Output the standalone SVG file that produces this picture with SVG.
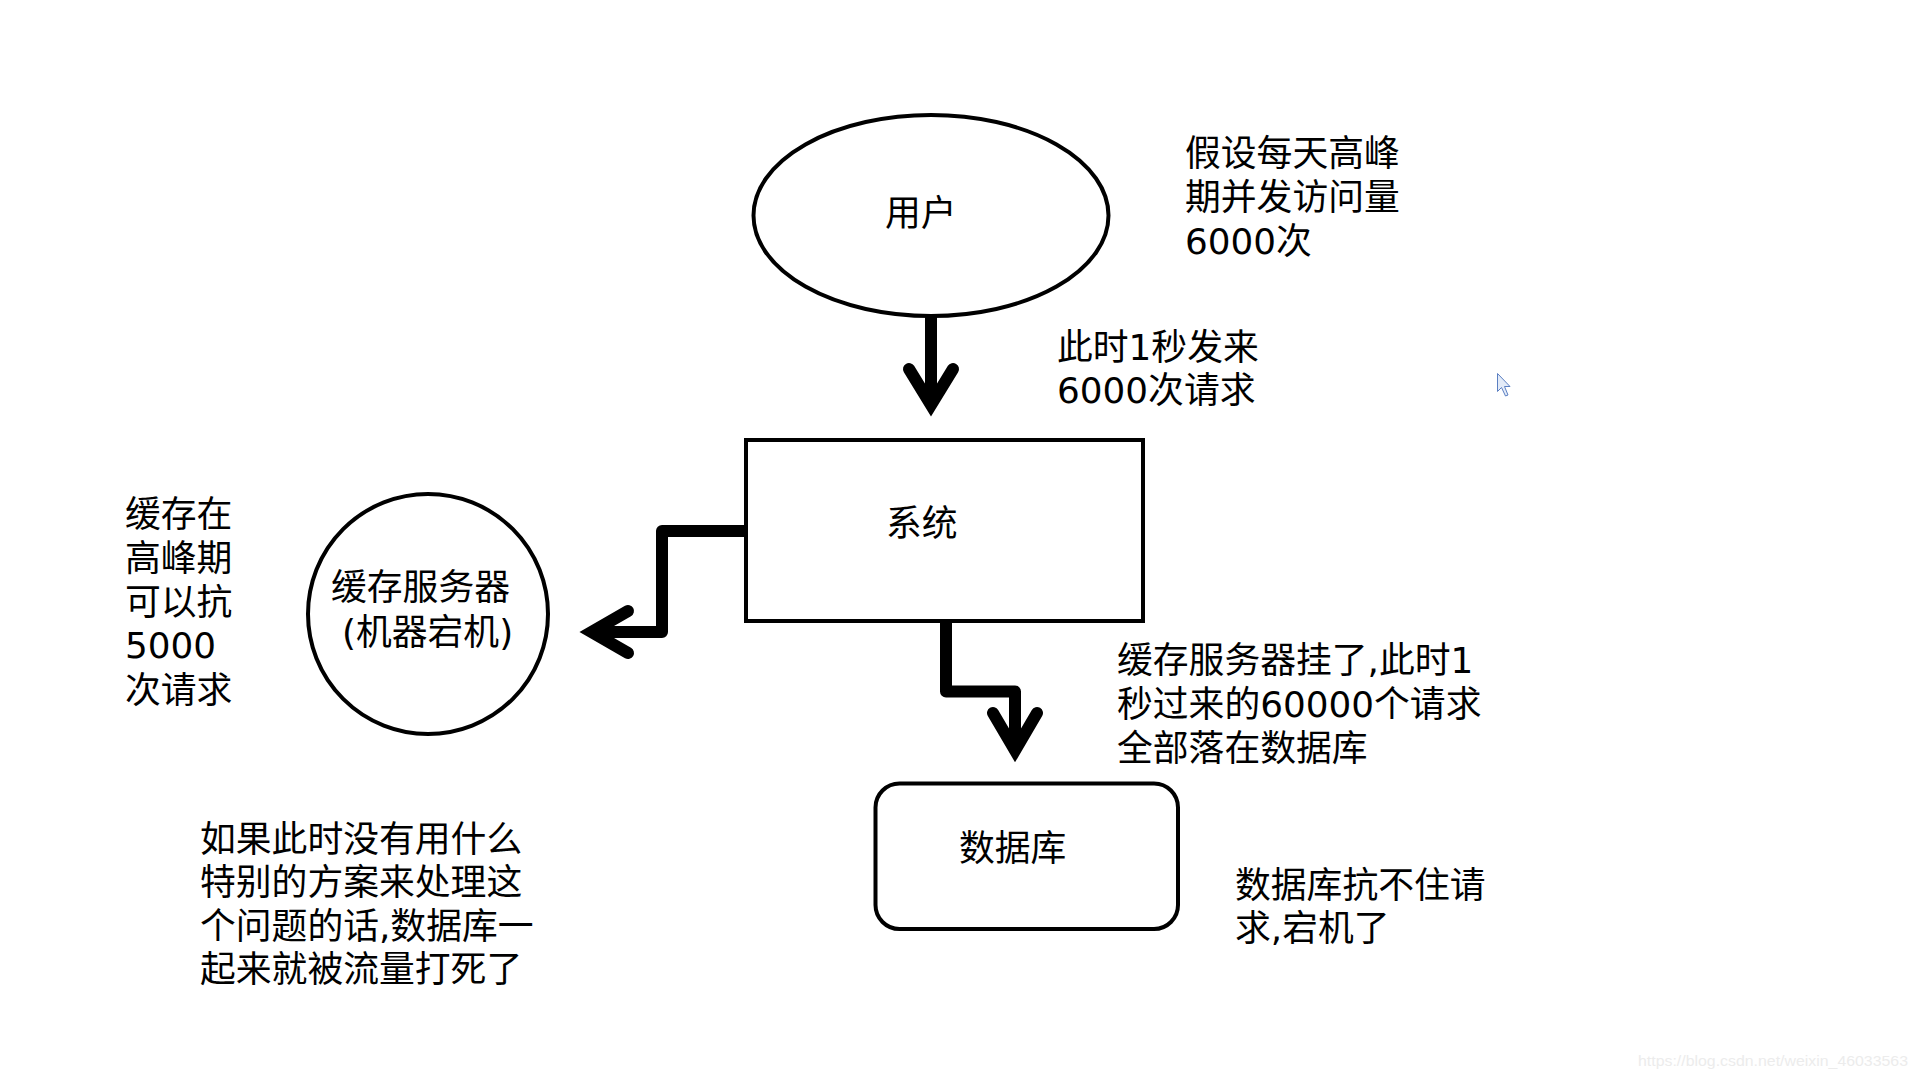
<svg xmlns="http://www.w3.org/2000/svg" width="1919" height="1079" viewBox="0 0 1919 1079">
<style>
.t { font-family: "DejaVu Sans", "Noto Sans CJK SC", sans-serif; font-size: 35.8px; fill: #000; }
.shape { fill: #fff; stroke: #000; stroke-width: 4; }
.conn { fill: none; stroke: #000; stroke-width: 12; stroke-linejoin: round; }
.head { fill: none; stroke: #000; stroke-width: 12; stroke-linecap: round; stroke-linejoin: miter; stroke-miterlimit: 10; }
.wm { font-family: "Liberation Sans", Arial, sans-serif; font-size: 14px; fill: #ececec; }
</style>
<rect x="0" y="0" width="1919" height="1079" fill="#fff"/>

<g id="connectors">
  <path class="conn" d="M931,316 V405"/>
  <path class="head" d="M909,369 L931,405 L953,369"/>
  <path class="conn" d="M746,531 H662 V632 H592"/>
  <path class="head" d="M628,611 L591.5,632 L628,653"/>
  <path class="conn" d="M946,621 V691.5 H1015 V750"/>
  <path class="head" d="M993,713 L1015,750.5 L1037,713"/>
</g>

<g id="user">
  <ellipse class="shape" cx="931" cy="215.5" rx="177.5" ry="100.5"/>
  <text class="t" x="885" y="226">用户</text>
</g>

<g id="system">
  <rect class="shape" x="746" y="440" width="397" height="181"/>
  <text class="t" x="886" y="536">系统</text>
</g>

<g id="cache">
  <circle class="shape" cx="428" cy="614" r="120"/>
  <text class="t" x="331" y="600">缓存服务器</text>
  <text class="t" x="342" y="645">(机器宕机)</text>
</g>

<g id="database">
  <rect class="shape" x="875.5" y="783.5" width="302.5" height="145.5" rx="24" ry="24"/>
  <text class="t" x="959" y="861">数据库</text>
</g>

<g id="notes">
  <text class="t" x="1185" y="166">假设每天高峰</text>
  <text class="t" x="1185" y="210">期并发访问量</text>
  <text class="t" x="1185" y="254">6000次</text>

  <text class="t" x="1057" y="360">此时1秒发来</text>
  <text class="t" x="1057" y="403">6000次请求</text>

  <text class="t" x="125" y="527">缓存在</text>
  <text class="t" x="125" y="571">高峰期</text>
  <text class="t" x="125" y="615">可以抗</text>
  <text class="t" x="125" y="658">5000</text>
  <text class="t" x="125" y="703">次请求</text>

  <text class="t" x="1117" y="673">缓存服务器挂了,此时1</text>
  <text class="t" x="1117" y="717">秒过来的60000个请求</text>
  <text class="t" x="1117" y="761">全部落在数据库</text>

  <text class="t" x="1235" y="898">数据库抗不住请</text>
  <text class="t" x="1235" y="941">求,宕机了</text>

  <text class="t" x="200" y="852">如果此时没有用什么</text>
  <text class="t" x="200" y="895">特别的方案来处理这</text>
  <text class="t" x="200" y="939">个问题的话,数据库一</text>
  <text class="t" x="200" y="982">起来就被流量打死了</text>
</g>

<polygon points="1497.5,373.5 1497.5,391.5 1501.5,387.5 1505.5,396 1508,395 1504.5,386.5 1510,386.5" fill="#e3ebf8" stroke="#5b7fc2" stroke-width="1" stroke-linejoin="round"/>

<text class="wm" x="1638" y="1066" textLength="270" lengthAdjust="spacingAndGlyphs">https://blog.csdn.net/weixin_46033563</text>
</svg>
